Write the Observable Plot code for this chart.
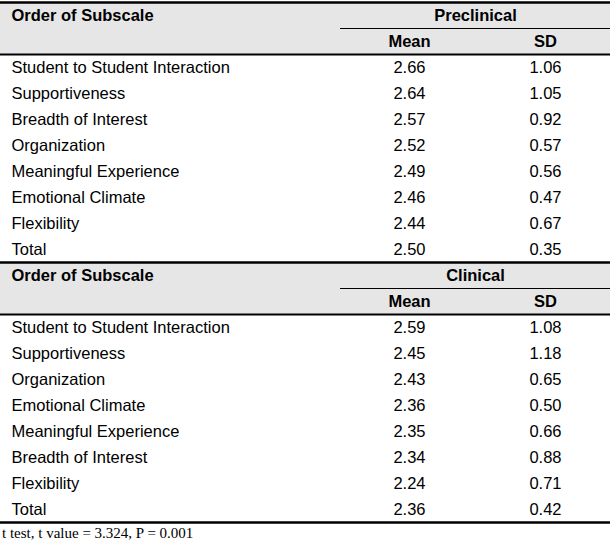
<!DOCTYPE html>
<html>
<head>
<meta charset="utf-8">
<script src="https://cdn.jsdelivr.net/npm/d3@7"></script>
<script src="https://cdn.jsdelivr.net/npm/@observablehq/plot@0.6"></script>
<style>
  html, body { margin: 0; padding: 0; background: #fff; }
  #caption { font-family: "Liberation Serif", "Times New Roman", serif; font-size: 15px; line-height: 18px; padding-left: 2px; color: #000; white-space: nowrap; }
</style>
</head>
<body>
<div id="chart"></div>
<div id="caption"></div>
<script>
// ---- data ----
const headerLabel = "Order of Subscale";
const statLabels = ["Mean", "SD"];
const groupNames = ["Preclinical", "Clinical"];

const preSubscales = ["Student to Student Interaction", "Supportiveness", "Breadth of Interest", "Organization", "Meaningful Experience", "Emotional Climate", "Flexibility", "Total"];
const preMeans = [2.66, 2.64, 2.57, 2.52, 2.49, 2.46, 2.44, 2.50];
const preSDs = [1.06, 1.05, 0.92, 0.57, 0.56, 0.47, 0.67, 0.35];

const clinSubscales = ["Student to Student Interaction", "Supportiveness", "Organization", "Emotional Climate", "Meaningful Experience", "Breadth of Interest", "Flexibility", "Total"];
const clinMeans = [2.59, 2.45, 2.43, 2.36, 2.35, 2.34, 2.24, 2.36];
const clinSDs = [1.08, 1.18, 0.65, 0.50, 0.66, 0.88, 0.71, 0.42];

const footnote = "t test, t value = 3.324, P = 0.001";

// ---- layout (row units) ----
const W = 610;
const FS = 16.5;
const colLabel = 11, colMean = 409, colSD = 545, colGroup = 475, subLineStart = 340;
const sections = [
  {name: groupNames[0], labels: preSubscales, means: preMeans, sds: preSDs},
  {name: groupNames[1], labels: clinSubscales, means: clinMeans, sds: clinSDs}
];
const fmt = d3.format(".2f");

const headers = [], bodyRows = [], bands = [], thinRules = [], midRules = [], thickRules = [];
let r = 0;
for (const s of sections) {
  bands.push({y1: r, y2: r + 2});
  thickRules.push({y: r});
  thinRules.push({y: r + 1});
  headers.push({x: colLabel, y: r + 0.5, text: headerLabel, anchor: "start"});
  headers.push({x: colGroup, y: r + 0.5, text: s.name, anchor: "middle"});
  headers.push({x: colMean, y: r + 1.5, text: statLabels[0], anchor: "middle"});
  headers.push({x: colSD, y: r + 1.5, text: statLabels[1], anchor: "middle"});
  midRules.push({y: r + 2});
  r += 2;
  s.labels.forEach((lab, i) => {
    bodyRows.push({row: r + i + 0.5, label: lab, mean: fmt(s.means[i]), sd: fmt(s.sds[i])});
  });
  r += s.labels.length;
}
thickRules.push({y: r});

const chart = Plot.plot({
  width: W,
  height: 524,
  margin: 0,
  x: {type: "linear", domain: [0, W], range: [0, W], axis: null},
  y: {type: "linear", domain: [0, r], range: [2, 522], axis: null},
  style: {fontFamily: "'Liberation Sans', Arial, sans-serif", fontSize: FS + "px", color: "#000", background: "#fff"},
  marks: [
    Plot.rect(bands, {x1: 0, x2: W, y1: "y1", y2: "y2", fill: "#e6e6e6"}),
    Plot.ruleY(thinRules, {y: "y", x1: subLineStart, x2: W, stroke: "#000", strokeWidth: 1}),
    Plot.ruleY(midRules, {y: "y", x1: 0, x2: W, stroke: "#000", strokeWidth: 2}),
    Plot.ruleY(thickRules, {y: "y", x1: 0, x2: W, stroke: "#000", strokeWidth: 2.5}),
    Plot.text(headers.filter(d => d.anchor === "start"), {x: "x", y: "y", text: "text", textAnchor: "start", fontWeight: "bold", fontSize: FS, fill: "#000"}),
    Plot.text(headers.filter(d => d.anchor === "middle"), {x: "x", y: "y", text: "text", textAnchor: "middle", fontWeight: "bold", fontSize: FS, fill: "#000"}),
    Plot.text(bodyRows, {x: colLabel, y: "row", text: "label", textAnchor: "start", fontSize: FS, fill: "#000"}),
    Plot.text(bodyRows, {x: colMean, y: "row", text: "mean", textAnchor: "middle", fontSize: FS, fill: "#000"}),
    Plot.text(bodyRows, {x: colSD, y: "row", text: "sd", textAnchor: "middle", fontSize: FS, fill: "#000"})
  ]
});
document.getElementById("chart").appendChild(chart);
document.getElementById("caption").textContent = footnote;
</script>
</body>
</html>
